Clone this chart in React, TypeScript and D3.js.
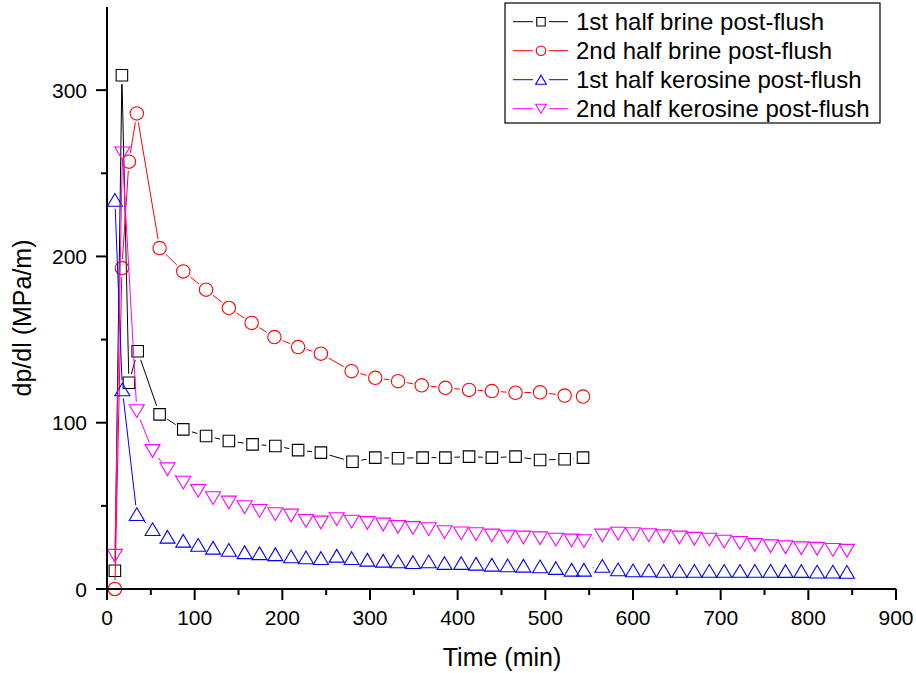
import React from "react";
import * as d3 from "d3";

const seriesNames = [
  "1st half brine post-flush",
  "2nd half brine post-flush",
  "1st half kerosine post-flush",
  "2nd half kerosine post-flush",
];

const brine1X = [9, 17, 25, 35, 60, 87, 113, 139, 166, 192, 218, 244, 280, 306, 332, 360, 386, 413, 439, 466, 494, 522, 543];
const brine1Y = [11, 309, 124, 143, 105, 96, 92, 89, 87, 86, 83.5, 82, 76.5, 79, 78.6, 79, 79, 79.6, 79, 79.6, 77.6, 78, 79];

const brine2X = [9, 17, 25, 34, 60, 87, 113, 139, 165, 191, 218, 244, 279, 306, 332, 359, 386, 413, 439, 466, 494, 522, 543];
const brine2Y = [0, 193, 257, 286, 205, 191, 180, 169, 160, 151.5, 145.5, 141.5, 131, 127, 125, 122.5, 121, 119.7, 119, 118, 118.3, 116.3, 115.7];

const keroX = [9, 17.5, 34, 52, 69, 87, 104, 121, 139, 157, 174, 192, 210, 227, 244, 262, 279, 297, 315, 332, 349, 367, 385, 404, 421, 439, 457, 475, 494, 512, 530, 544, 565, 583, 600, 618, 635, 653, 670, 687, 704, 722, 739, 757, 774, 792, 810, 828, 844];
const kero1Y = [234, 120, 45, 36, 31.4, 29, 26.5, 24.8, 23.5, 22.1, 21.5, 20.9, 19.6, 19.0, 18.6, 20.0, 18.6, 17.6, 17.0, 16.6, 16.2, 16.6, 15.6, 15.6, 15.2, 14.6, 14.2, 14.0, 13.6, 12.6, 11.6, 11.6, 13.9, 11.8, 11.2, 11.2, 10.9, 10.9, 10.9, 10.9, 10.9, 10.9, 10.9, 10.9, 10.8, 10.8, 10.4, 10.4, 10.3];
const kero2Y = [20, 262, 107, 83, 72, 64, 59, 54.7, 52, 49.2, 47, 45, 44.2, 41, 40, 42, 40.5, 39.7, 38.8, 37.3, 36.7, 36, 34.2, 33.5, 33, 32.2, 31.5, 31, 30.5, 29.7, 29.2, 28.8, 32.2, 33.3, 33, 32.4, 31.7, 31, 30.2, 29.7, 28.5, 27.7, 26.5, 25.7, 25.1, 24.5, 24.2, 23.5, 23];

const xTicks = [0, 100, 200, 300, 400, 500, 600, 700, 800, 900];
const yTicks = [0, 100, 200, 300];

const FONT = "'Liberation Sans', Arial, sans-serif";

type Shape = "square" | "circle" | "up" | "down";

function markerPath(shape: Shape, x: number, y: number, s: number): string {
  if (shape === "square") {
    const h = s / 2;
    return `M${x - h},${y - h}h${s}v${s}h${-s}Z`;
  }
  if (shape === "circle") {
    const r = s / 2;
    return `M${x - r},${y}a${r},${r} 0 1,0 ${2 * r},0a${r},${r} 0 1,0 ${-2 * r},0Z`;
  }
  const w = s * 1.12;
  const h = s * 0.95;
  if (shape === "up") {
    return `M${x},${y - h / 2}L${x + w / 2},${y + h / 2}L${x - w / 2},${y + h / 2}Z`;
  }
  return `M${x},${y + h / 2}L${x + w / 2},${y - h / 2}L${x - w / 2},${y - h / 2}Z`;
}

export default function App() {
  const W = 916, H = 673;
  const left = 107, right = 896, top = 7, bottom = 589;
  const x = d3.scaleLinear().domain([0, 900]).range([left, right]);
  const y = d3.scaleLinear().domain([0, 350]).range([bottom, top]);

  const series = [
    { name: seriesNames[0], xs: brine1X, ys: brine1Y, color: "#000000", shape: "square" as Shape, size: 11.5 },
    { name: seriesNames[1], xs: brine2X, ys: brine2Y, color: "#ff0000", shape: "circle" as Shape, size: 13.4 },
    { name: seriesNames[2], xs: keroX, ys: kero1Y, color: "#0000ff", shape: "up" as Shape, size: 13.4 },
    { name: seriesNames[3], xs: keroX, ys: kero2Y, color: "#ff00ff", shape: "down" as Shape, size: 13.4 },
  ];

  const gap = 9;
  const xMinor = d3.range(50, 900, 100);
  const yMinor = d3.range(50, 350, 100);

  return (
    <svg width={W} height={H} style={{ position: "absolute", left: 0, top: 0, background: "#fff" }} fontFamily={FONT}>
      <rect x={0} y={0} width={W} height={H} fill="#fff" />
      {/* series */}
      {series.map((s, si) => {
        const pts = s.xs.map((v, i) => [x(v), y(s.ys[i])] as [number, number]);
        const segs: string[] = [];
        for (let i = 0; i < pts.length - 1; i++) {
          const [x1, y1] = pts[i];
          const [x2, y2] = pts[i + 1];
          const dx = x2 - x1, dy = y2 - y1;
          const len = Math.hypot(dx, dy);
          if (len <= 2 * gap) continue;
          const ux = dx / len, uy = dy / len;
          segs.push(`M${x1 + ux * gap},${y1 + uy * gap}L${x2 - ux * gap},${y2 - uy * gap}`);
        }
        return (
          <g key={si}>
            <path d={segs.join("")} stroke={s.color} strokeWidth={1} fill="none" />
            {pts.map((p, i) => (
              <path key={i} d={markerPath(s.shape, p[0], p[1], s.size)} stroke={s.color} strokeWidth={1.1} fill="none" />
            ))}
          </g>
        );
      })}
      {/* axes */}
      <line x1={left} y1={bottom} x2={right} y2={bottom} stroke="#000" strokeWidth={2} />
      <line x1={left} y1={bottom} x2={left} y2={top} stroke="#000" strokeWidth={2} />
      {xTicks.map((t) => (
        <g key={"xt" + t}>
          <line x1={x(t)} y1={bottom} x2={x(t)} y2={bottom + 11} stroke="#000" strokeWidth={2} />
          <text x={x(t)} y={625} fontSize={21} textAnchor="middle" fill="#000">{t}</text>
        </g>
      ))}
      {xMinor.map((t) => (
        <line key={"xm" + t} x1={x(t)} y1={bottom} x2={x(t)} y2={bottom + 6} stroke="#000" strokeWidth={2} />
      ))}
      {yTicks.map((t) => (
        <g key={"yt" + t}>
          <line x1={left} y1={y(t)} x2={left - 11} y2={y(t)} stroke="#000" strokeWidth={2} />
          <text x={87} y={y(t) + 7.5} fontSize={21} textAnchor="end" fill="#000">{t}</text>
        </g>
      ))}
      {yMinor.map((t) => (
        <line key={"ym" + t} x1={left} y1={y(t)} x2={left - 6} y2={y(t)} stroke="#000" strokeWidth={2} />
      ))}
      <text x={502} y={666} fontSize={25} textAnchor="middle" fill="#000">Time (min)</text>
      <text transform="translate(31,318) rotate(-90)" fontSize={25} textAnchor="middle" fill="#000">dp/dl (MPa/m)</text>
      {/* legend */}
      <rect x={505} y={3} width={375} height={120} fill="#fff" stroke="#000" strokeWidth={1.2} />
      {series.map((s, i) => {
        const cy = 21.7 + i * 29;
        return (
          <g key={"lg" + i}>
            <line x1={513} y1={cy} x2={533} y2={cy} stroke={s.color} strokeWidth={1} />
            <line x1={549} y1={cy} x2={568} y2={cy} stroke={s.color} strokeWidth={1} />
            <path d={markerPath(s.shape, 541, cy, s.shape === "square" ? 8.5 : 9.5)} stroke={s.color} strokeWidth={1.1} fill="none" />
            <text x={576} y={cy + 8.5} fontSize={24} fill="#000">{s.name}</text>
          </g>
        );
      })}
    </svg>
  );
}
